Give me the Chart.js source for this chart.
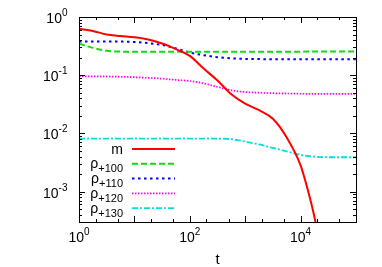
<!DOCTYPE html>
<html>
<head>
<meta charset="utf-8">
<script src="https://cdn.jsdelivr.net/npm/chart.js@4"></script>
<style>
html, body { margin: 0; padding: 0; background: #fff; }
#wrap { width: 382px; height: 267px; }
</style>
</head>
<body>
<div id="wrap"><canvas id="plot"></canvas></div>
<script>
// t values, a point every quarter decade
var tRho = [1, 1.78, 3.16, 5.62, 10, 17.8, 31.6, 56.2, 100, 178, 316, 562, 1000, 1780, 3160, 5620, 10000, 17800, 31600, 56200, 100000];
var tM = [1, 1.78, 3.16, 5.62, 10, 17.8, 31.6, 56.2, 100, 178, 316, 562, 1000, 1780, 3160, 5620, 10000, 13300, 17800, 23700];

// series
var m = [0.63, 0.575, 0.50, 0.47, 0.447, 0.41, 0.35, 0.28, 0.215, 0.13, 0.081, 0.047, 0.0324, 0.0251, 0.0178, 0.0085, 0.00282, 0.00112, 0.000363, 0.0000794];
var rho100 = [0.347, 0.295, 0.263, 0.254, 0.253, 0.253, 0.253, 0.254, 0.254, 0.254, 0.254, 0.254, 0.254, 0.254, 0.254, 0.254, 0.254, 0.255, 0.255, 0.255, 0.255];
var rho110 = [0.38, 0.38, 0.38, 0.378, 0.372, 0.355, 0.331, 0.288, 0.245, 0.221, 0.204, 0.195, 0.19, 0.189, 0.188, 0.188, 0.188, 0.188, 0.188, 0.188, 0.188];
var rho120 = [0.0955, 0.0953, 0.095, 0.094, 0.0923, 0.09, 0.087, 0.083, 0.0794, 0.0724, 0.063, 0.055, 0.0513, 0.05, 0.049, 0.0485, 0.048, 0.0479, 0.0479, 0.0479, 0.0479];
var rho130 = [0.00813, 0.00813, 0.00813, 0.00813, 0.00813, 0.00813, 0.00813, 0.00813, 0.00813, 0.00813, 0.00813, 0.00794, 0.00724, 0.00646, 0.00562, 0.0049, 0.00427, 0.00398, 0.00389, 0.00389, 0.00389];

// legend text: base + subscript
var nameBase = ['m', 'ρ', 'ρ', 'ρ', 'ρ'];
var nameSub = ['', '+100', '+110', '+120', '+130'];

// axis labels (powers of ten)
var xLabelExp = [0, 2, 4];
var yLabelExp = [0, -1, -2, -3];
var xMinor = [2, 5];
var yMinor = [2, 3, 4, 5, 6, 7, 8, 9];

function pts(ts, vs) {
  return ts.map(function (t, i) { return { x: t, y: vs[i] }; });
}

var FONT = '"Liberation Sans", Arial, sans-serif';

function supLabel(ctx, x, y, exp, align) {
  ctx.textAlign = 'left';
  ctx.textBaseline = 'alphabetic';
  ctx.font = '14px ' + FONT;
  var wb = ctx.measureText('10').width;
  ctx.font = '10px ' + FONT;
  var we = ctx.measureText(String(exp)).width;
  var x0 = align === 'center' ? x - (wb + we) / 2 : x - wb - we;
  ctx.font = '14px ' + FONT;
  ctx.fillText('10', x0, y);
  ctx.font = '10px ' + FONT;
  ctx.fillText(String(exp), x0 + wb, y - 7);
}

var frame = {
  id: 'frame',
  afterDraw: function (chart) {
    var ctx = chart.ctx, a = chart.chartArea;
    var xs = chart.scales.x, ys = chart.scales.y;
    ctx.save();
    ctx.strokeStyle = '#000';
    ctx.fillStyle = '#000';
    ctx.lineWidth = 1;
    ctx.setLineDash([]);
    ctx.strokeRect(Math.round(a.left) + 0.5, Math.round(a.top) + 0.5, Math.round(a.right - a.left), Math.round(a.bottom - a.top));

    ctx.beginPath();
    // x ticks
    for (var d = 0; d <= 5; d++) {
      var dec = Math.pow(10, d);
      var list = [[dec, 6]].concat(xMinor.map(function (k) { return [k * dec, 3]; }));
      list.forEach(function (p) {
        if (p[0] > xs.max) return;
        var px = Math.round(xs.getPixelForValue(p[0])) + 0.5;
        ctx.moveTo(px, a.bottom); ctx.lineTo(px, a.bottom - p[1]);
        ctx.moveTo(px, a.top); ctx.lineTo(px, a.top + p[1]);
      });
    }
    // y ticks
    for (var e = -4; e <= 0; e++) {
      var dy = Math.pow(10, e);
      var ly = [[dy, 6]].concat(yMinor.map(function (k) { return [k * dy, 3]; }));
      ly.forEach(function (p) {
        if (p[0] < ys.min || p[0] > ys.max) return;
        var py = Math.round(ys.getPixelForValue(p[0])) + 0.5;
        ctx.moveTo(a.left, py); ctx.lineTo(a.left + p[1], py);
        ctx.moveTo(a.right, py); ctx.lineTo(a.right - p[1], py);
      });
    }
    ctx.stroke();

    xLabelExp.forEach(function (k) {
      supLabel(ctx, xs.getPixelForValue(Math.pow(10, k)), a.bottom + 20, k, 'center');
    });
    yLabelExp.forEach(function (k) {
      supLabel(ctx, a.left - 11.5, ys.getPixelForValue(Math.pow(10, k)) + 6, k, 'right');
    });

    ctx.font = '15px ' + FONT;
    ctx.textAlign = 'center';
    ctx.fillText('t', (a.left + a.right) / 2, a.bottom + 42);

    // legend
    chart.data.datasets.forEach(function (ds, i) {
      var ly = 149 + i * 14.8;
      ctx.textAlign = 'left';
      ctx.font = '11px ' + FONT;
      var ws = ctx.measureText(nameSub[i]).width;
      ctx.font = '14px ' + FONT;
      var wb = ctx.measureText(nameBase[i]).width;
      var xr = 123;
      ctx.fillText(nameBase[i], xr - ws - wb, ly + 4.5);
      ctx.font = '11px ' + FONT;
      ctx.fillText(nameSub[i], xr - ws, ly + 8.5);
      ctx.beginPath();
      ctx.strokeStyle = ds.borderColor;
      ctx.lineWidth = ds.borderWidth;
      ctx.setLineDash(ds.borderDash || []);
      ctx.moveTo(132, ly); ctx.lineTo(175, ly);
      ctx.stroke();
      ctx.setLineDash([]);
    });
    ctx.restore();
  }
};

var ctx = document.getElementById('plot').getContext('2d');
var chart = new Chart(ctx, {
  type: 'line',
  data: {
    datasets: [
      { label: 'm', data: pts(tM, m), borderColor: '#ff0000', borderWidth: 2 },
      { label: 'ρ+100', data: pts(tRho, rho100), borderColor: '#10dd10', borderWidth: 2, borderDash: [6, 3] },
      { label: 'ρ+110', data: pts(tRho, rho110), borderColor: '#0000ff', borderWidth: 2, borderDash: [2.5, 3.5] },
      { label: 'ρ+120', data: pts(tRho, rho120), borderColor: '#ff00ff', borderWidth: 1.7, borderDash: [1.5, 1.5] },
      { label: 'ρ+130', data: pts(tRho, rho130), borderColor: '#00e0e0', borderWidth: 1.8, borderDash: [6, 2, 2, 2] }
    ]
  },
  options: {
    responsive: true,
    maintainAspectRatio: false,
    animation: false,
    devicePixelRatio: 1,
    layout: { padding: { left: 79, top: 17, right: 26, bottom: 45 } },
    elements: { point: { radius: 0 }, line: { cubicInterpolationMode: 'monotone', fill: false } },
    plugins: { legend: { display: false }, tooltip: { enabled: false } },
    scales: {
      x: { type: 'logarithmic', min: 1, max: 100000, display: false },
      y: { type: 'logarithmic', min: 0.000316, max: 1, display: false }
    }
  },
  plugins: [frame]
});
</script>
</body>
</html>
